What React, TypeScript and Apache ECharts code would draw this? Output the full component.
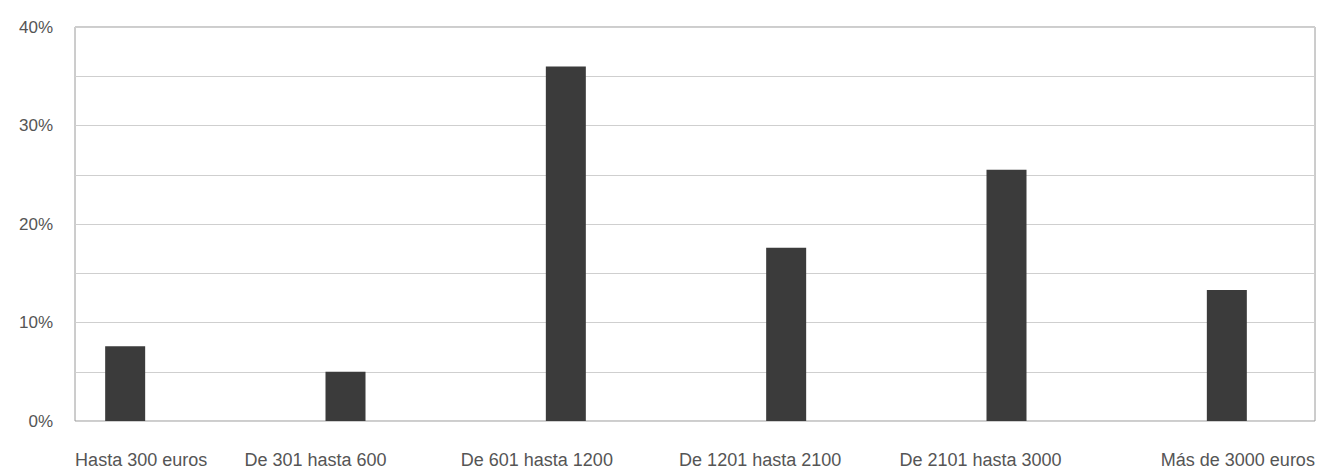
import React, { useEffect, useRef } from "react";
import * as echarts from "echarts";

const categories: string[] = [
  "Hasta 300 euros",
  "De 301 hasta 600",
  "De 601 hasta 1200",
  "De 1201 hasta 2100",
  "De 2101 hasta 3000",
  "Más de 3000 euros",
];
const shares: number[] = [7.6, 5.0, 36.0, 17.6, 25.5, 13.3];
const yTicks: number[] = [0, 10, 20, 30, 40];

// horizontal label nudges (px) so labels sit as in the reference
const labelShift: number[] = [16, -30, -29, -26, -26, 11];

// the chart canvas is wider than the page so the bar bands can overhang the frame
const PAD = 20;

export default function App() {
  const ref = useRef<HTMLDivElement>(null);
  useEffect(() => {
    if (!ref.current) return;
    const chart = echarts.init(ref.current, undefined, { renderer: "svg" });
    const rich: Record<string, any> = {};
    labelShift.forEach((s, i) => {
      rich["l" + i] = {
        fontFamily: "Liberation Sans",
        fontSize: 18,
        color: "#555",
        padding: s >= 0 ? [0, 0, 0, 2 * s] : [0, -2 * s, 0, 0],
      };
    });
    chart.setOption({
      animation: false,
      grid: [
        { left: 75 + PAD, right: 5 + PAD, top: 27, bottom: 53, show: true, borderColor: "#9a9a9a", borderWidth: 1, containLabel: false },
        { left: 15 + PAD, width: 1322, top: 27, bottom: 53, containLabel: false },
      ],
      xAxis: [
        { gridIndex: 0, type: "value", min: 0, max: 1, show: false },
        {
          gridIndex: 1,
          type: "category",
          data: categories,
          boundaryGap: true,
          axisLine: { show: false },
          axisTick: { show: false },
          axisLabel: {
            margin: 30,
            interval: 0,
            formatter: (v: string) => {
              const i = categories.indexOf(v);
              return "{l" + i + "|" + v + "}";
            },
            rich,
          },
        },
      ],
      yAxis: [
        {
          gridIndex: 0,
          type: "value",
          min: 0,
          max: 40,
          interval: 5,
          axisLine: { show: false },
          axisTick: { show: false },
          splitLine: { show: true, lineStyle: { color: "#cfcfcf", width: 1 } },
          axisLabel: {
            margin: 22,
            fontFamily: "Liberation Sans",
            fontSize: 17,
            color: "#555",
            formatter: (v: number) => (yTicks.indexOf(v) >= 0 ? v + "%" : ""),
          },
        },
        { gridIndex: 1, type: "value", min: 0, max: 40, show: false, splitLine: { show: false } },
      ],
      series: [
        {
          type: "bar",
          xAxisIndex: 1,
          yAxisIndex: 1,
          data: shares,
          barWidth: 40,
          itemStyle: { color: "#3b3b3b" },
        },
      ],
    });
    return () => chart.dispose();
  }, []);
  return (
    <div style={{ position: "absolute", left: 0, top: 0, width: 1320, height: 474, overflow: "hidden" }}>
      <div ref={ref} style={{ position: "absolute", left: -PAD, top: 0, width: 1320 + 2 * PAD, height: 474 }} />
    </div>
  );
}
